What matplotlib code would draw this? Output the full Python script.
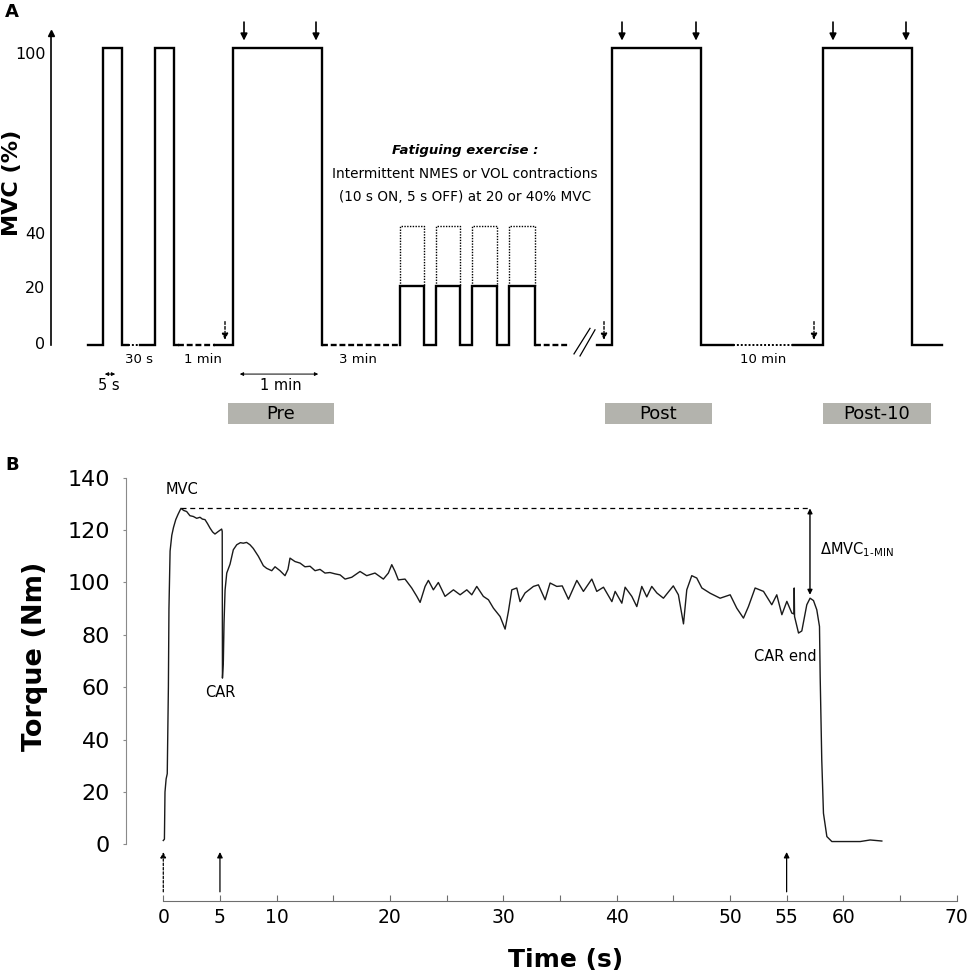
import matplotlib
matplotlib.use('Agg')
import matplotlib.pyplot as plt

plt.rcParams['font.family'] = ['DejaVu Sans']

### Panel A : protocol schematic (x in schematic units, y in % MVC)
a_yticks = [0, 20, 40, 100]
a_tick_pos = [0.7, 19.5, 37.7, 98.3]

# solid parts of the torque trace
a_solid = [
  ([88, 103, 103, 122, 122, 128], [0, 0, 100, 100, 0, 0]),
  ([140, 155, 155, 174, 174, 178], [0, 0, 100, 100, 0, 0]),
  ([215, 232.7, 232.7, 322, 322], [0, 0, 100, 100, 0]),
  ([400, 400, 424, 424, 436, 436, 460, 460, 472, 472, 497, 497, 509, 509, 535, 535],
   [0, 20, 20, 0, 0, 20, 20, 0, 0, 20, 20, 0, 0, 20, 20, 0]),
  ([597, 612.3, 612.3, 701.3, 701.3, 733], [0, 0, 100, 100, 0, 0]),
  ([793, 822.7, 822.7, 912, 912, 942], [0, 0, 100, 100, 0, 0]),
]
a_dotted_gaps = [(128, 140), (733, 793)]
a_dashed_gaps = [(178, 215), (322, 400), (535, 570)]

# fatiguing contractions: 20% (solid) and 40% (dotted) MVC
a_fat_on = [400, 436, 472, 509]
a_fat_off = [424, 460, 497, 535]
a_fat_low = 20
a_fat_high = 40

a_top_arrows = [244, 316, 622, 696, 833, 906]
a_stim_arrows = [225, 604, 814]

a_gap_labels = ['30 s', '1 min', '3 min', '10 min']
a_gap_x = [139, 203, 358, 763]

a_span_labels = ['5 s', '1 min']
a_span_start = [102, 237]
a_span_end = [118, 321]
a_span_text_x = [109, 281]

a_boxes = ['Pre', 'Post', 'Post-10']
a_box_left = [227.7, 605, 823.3]
a_box_right = [334.3, 712, 930.7]

a_break_x = [[574, 590], [580, 595]]
a_break_y = [[-3.0, 5.6], [-3.7, 5.1]]

### Panel B : torque during the 1-min MVC
b_time = [0, 0.1, 0.15, 0.25, 0.35, 0.45, 0.5, 0.6, 0.75, 0.9, 1.1, 1.3, 1.56,
  1.8, 2.06, 2.35, 2.65, 2.95, 3.24, 3.45, 3.68, 3.9, 4.12, 4.35, 4.56, 4.86,
  5.15, 5.2, 5.22, 5.3, 5.36, 5.45, 5.6, 5.89, 6.18, 6.48, 6.8, 7.06, 7.35,
  7.65, 7.94, 8.39, 8.83, 9.12, 9.57, 9.86, 10.3, 10.74, 11.0, 11.18, 11.62,
  12.07, 12.5, 12.95, 13.39, 13.83, 14.27, 14.71, 15.15, 15.6, 16.04, 16.63,
  17.36, 17.95, 18.68, 19.42, 19.86, 20.16, 20.45, 20.74, 21.33, 21.92, 22.37,
  22.66, 23.1, 23.39, 23.83, 24.27, 24.86, 25.6, 26.19, 26.78, 27.22, 27.66,
  28.24, 28.69, 29.13, 29.72, 30.16, 30.45, 30.75, 31.19, 31.48, 31.92, 32.66,
  33.1, 33.69, 34.13, 34.72, 35.2, 35.75, 36.49, 37.07, 37.81, 38.25, 38.84,
  39.58, 39.87, 40.46, 40.75, 41.34, 41.78, 42.22, 42.66, 43.1, 43.55, 44.13,
  45.0, 45.45, 45.9, 46.19, 46.63, 47.07, 47.52, 48.25, 49.13, 50.02, 50.6,
  51.19, 51.63, 52.22, 52.96, 53.69, 54.13, 54.58, 55.02, 55.46, 55.65, 55.67,
  55.7, 56.05, 56.34, 56.78, 57.07, 57.37, 57.66, 57.9, 57.96, 58.1, 58.25,
  58.55, 58.99, 61.49, 62.37, 63.4]
b_torque = [1.5, 2, 20, 25, 27, 60, 90, 112, 118, 121, 124, 126, 128.3,
  127.5, 127.1, 125.5, 125.2, 124.5, 124.9, 124.2, 124, 122.5, 120.8, 119.3,
  118.5, 119.5, 120.4, 119.5, 63.5, 70, 84.5, 97, 103.6, 107, 112.5, 114.4,
  115.2, 115, 115.3, 114.4, 113, 110, 106.4, 105.4, 104.5, 106, 104.5, 102.6,
  105, 109.3, 108, 107.4, 106, 106.2, 104.5, 105, 103.6, 103.8, 103.3, 102.9,
  101.3, 102, 104.2, 102.6, 103.6, 101.3, 103.6, 106.8, 104.2, 101, 101.3,
  97.9, 94.7, 92.4, 98.5, 100.8, 97.2, 100, 94.7, 97.2, 95.3, 97.2, 95.3,
  98.5, 94.7, 93.4, 90.2, 87, 82.2, 88.9, 97.2, 97.9, 92.7, 96, 98.5, 99.1,
  93.4, 99.8, 98.5, 98.7, 93.6, 100.8, 96.6, 101.3, 96.6, 98.2, 92.7, 96.6,
  92.1, 98.2, 94.7, 90.8, 98.5, 94.5, 98.5, 96, 94, 98.7, 95.3, 84.2, 97.2,
  102.6, 101.7, 97.9, 95.9, 94, 95.3, 90.2, 86.4, 90.8, 97.9, 96.6, 91.5,
  95.3, 87.7, 92.8, 88.3, 88, 97.9, 87, 80.7, 81.5, 91.5, 94, 93.1, 89.6,
  83.2, 64.1, 32.3, 11.9, 3.0, 1.1, 1.1, 1.7, 1.3]

b_mvc = 128.3
b_mvc_start = 1.6
b_delta_t = 57.06
b_delta_end = 95.3
b_stim_dashed = [0]
b_stim_solid = [5, 55]
b_xticks = list(range(0, 71, 5))
b_xlabels = ['0', '5', '10', '', '20', '', '30', '', '40', '', '50', '55', '60', '', '70']
b_yticks = list(range(0, 141, 20))


fig = plt.figure(figsize=(9.69, 9.76), dpi=100)

### Panel A
axA = fig.add_axes([0, 0.5492, 1, 0.4508])
axA.set_xlim(0, 969)
axA.set_ylim(-32.0, 116.2)
for s in ['top', 'right', 'bottom']:
  axA.spines[s].set_visible(False)
axA.spines['left'].set_position(('data', 51))
axA.spines['left'].set_bounds(0, 105)
axA.spines['left'].set_linewidth(1.2)
axA.plot([51], [105], marker='^', color='k', markersize=5, clip_on=False)
axA.set_xticks([])
axA.set_yticks(a_tick_pos)
axA.set_yticklabels([str(v) for v in a_yticks])
axA.tick_params(axis='y', length=0, pad=4, labelsize=11.5)
axA.text(12.5, 54.5, 'MVC (%)', rotation=90, ha='center', va='center',
  fontsize=16, fontweight='bold')

for xs, ys in a_solid:
  axA.plot(xs, ys, color='k', lw=1.7, solid_joinstyle='miter')
for x0, x1 in a_dotted_gaps:
  axA.plot([x0, x1], [0, 0], color='k', lw=1.4, linestyle=(0, (1, 1)))
for x0, x1 in a_dashed_gaps:
  axA.plot([x0, x1], [0, 0], color='k', lw=1.7, linestyle=(0, (2.5, 1.2)))
for x0, x1 in zip(a_fat_on, a_fat_off):
  axA.plot([x0, x0, x1, x1], [a_fat_low, a_fat_high, a_fat_high, a_fat_low],
    color='k', lw=1.0, linestyle=(0, (1, 1)))

for x in a_top_arrows:
  axA.annotate('', xy=(x, 101.6), xytext=(x, 109.7),
    arrowprops=dict(arrowstyle='-|>', color='k', lw=1.2, mutation_scale=10))
for x in a_stim_arrows:
  axA.annotate('', xy=(x, 0.8), xytext=(x, 8.8),
    arrowprops=dict(arrowstyle='-|>', color='k', lw=1.0, linestyle=(0, (2, 1.5)),
      mutation_scale=9))

for lab, x in zip(a_gap_labels, a_gap_x):
  axA.text(x, -4.9, lab, ha='center', va='center', fontsize=9.5)
for lab, x0, x1, xt in zip(a_span_labels, a_span_start, a_span_end, a_span_text_x):
  axA.annotate('', xy=(x0, -9.8), xytext=(x1, -9.8),
    arrowprops=dict(arrowstyle='<|-|>', color='k', lw=0.7, mutation_scale=5))
  axA.text(xt, -13.7, lab, ha='center', va='center', fontsize=10.5)

for lab, x0, x1 in zip(a_boxes, a_box_left, a_box_right):
  axA.bar((x0 + x1) / 2, 6.9, width=x1 - x0, bottom=-26.5, color='#b3b3ad',
    edgecolor='none')
  axA.text((x0 + x1) / 2, -23.1, lab, ha='center', va='center', fontsize=13)

for xs, ys in zip(a_break_x, a_break_y):
  axA.plot(xs, ys, color='k', lw=0.9)

axA.text(465, 65.4, 'Fatiguing exercise :', ha='center', va='center',
  fontsize=9.5, fontweight='bold', fontstyle='italic')
axA.text(465, 57.6, 'Intermittent NMES or VOL contractions', ha='center',
  va='center', fontsize=9.8)
axA.text(465, 49.9, '(10 s ON, 5 s OFF) at 20 or 40% MVC', ha='center',
  va='center', fontsize=9.8)

### Panel B
axB = fig.add_axes([0.13003, 0.07684, 0.8572, 0.4337])
axB.set_xlim(-3.29, 70)
axB.set_ylim(-21.6, 140)
axB.plot(b_time, b_torque, color='#1a1a1a', lw=1.0)

for s in ['top', 'right']:
  axB.spines[s].set_visible(False)
axB.spines['left'].set_bounds(0, 140)
axB.spines['left'].set_color('#8a8a8a')
axB.spines['bottom'].set_bounds(0, 70)
axB.spines['bottom'].set_color('#6e6e6e')
axB.set_yticks(b_yticks)
axB.tick_params(axis='y', direction='out', length=2, color='#8a8a8a', pad=9.5,
  labelsize=16)
axB.set_xticks(b_xticks)
axB.set_xticklabels(b_xlabels, fontsize=13.5)
axB.tick_params(axis='x', direction='in', length=4, color='#6e6e6e', pad=5)

axB.plot([b_mvc_start, b_delta_t], [b_mvc, b_mvc], color='k', lw=0.9,
  linestyle=(0, (4, 3)))
axB.annotate('', xy=(b_delta_t, b_delta_end), xytext=(b_delta_t, b_mvc),
  arrowprops=dict(arrowstyle='<|-|>', color='k', lw=1.0, mutation_scale=7,
    shrinkA=0, shrinkB=0))

for t in b_stim_dashed:
  axB.annotate('', xy=(t, -2.9), xytext=(t, -18.1),
    arrowprops=dict(arrowstyle='-|>', color='k', lw=0.9, linestyle=(0, (2, 1.5)),
      mutation_scale=8, shrinkA=0, shrinkB=0), annotation_clip=False)
for t in b_stim_solid:
  axB.annotate('', xy=(t, -2.9), xytext=(t, -18.1),
    arrowprops=dict(arrowstyle='-|>', color='k', lw=0.9, mutation_scale=8,
      shrinkA=0, shrinkB=0), annotation_clip=False)

axB.text(1.68, 135.4, 'MVC', ha='center', va='center', fontsize=10.5)
axB.text(5.05, 58.1, 'CAR', ha='center', va='center', fontsize=10.5)
axB.text(54.86, 71.6, 'CAR end', ha='center', va='center', fontsize=10.5)
axB.text(57.97, 112.5, '\u0394MVC$_{\\mathregular{1\u2010MIN}}$', ha='left',
  va='center', fontsize=10.5)

axB.text(0.5297, -0.139, 'Time (s)', transform=axB.transAxes, ha='center',
  va='center', fontsize=18, fontweight='bold')
axB.text(-0.1096, 0.5788, 'Torque (Nm)', transform=axB.transAxes, rotation=90,
  ha='center', va='center', fontsize=19.5, fontweight='bold')

fig.text(12 / 969, 1 - 12 / 976, 'A', ha='center', va='center', fontsize=13,
  fontweight='bold')
fig.text(12 / 969, 1 - 465 / 976, 'B', ha='center', va='center', fontsize=13,
  fontweight='bold')

plt.savefig('out.png', dpi=100)
